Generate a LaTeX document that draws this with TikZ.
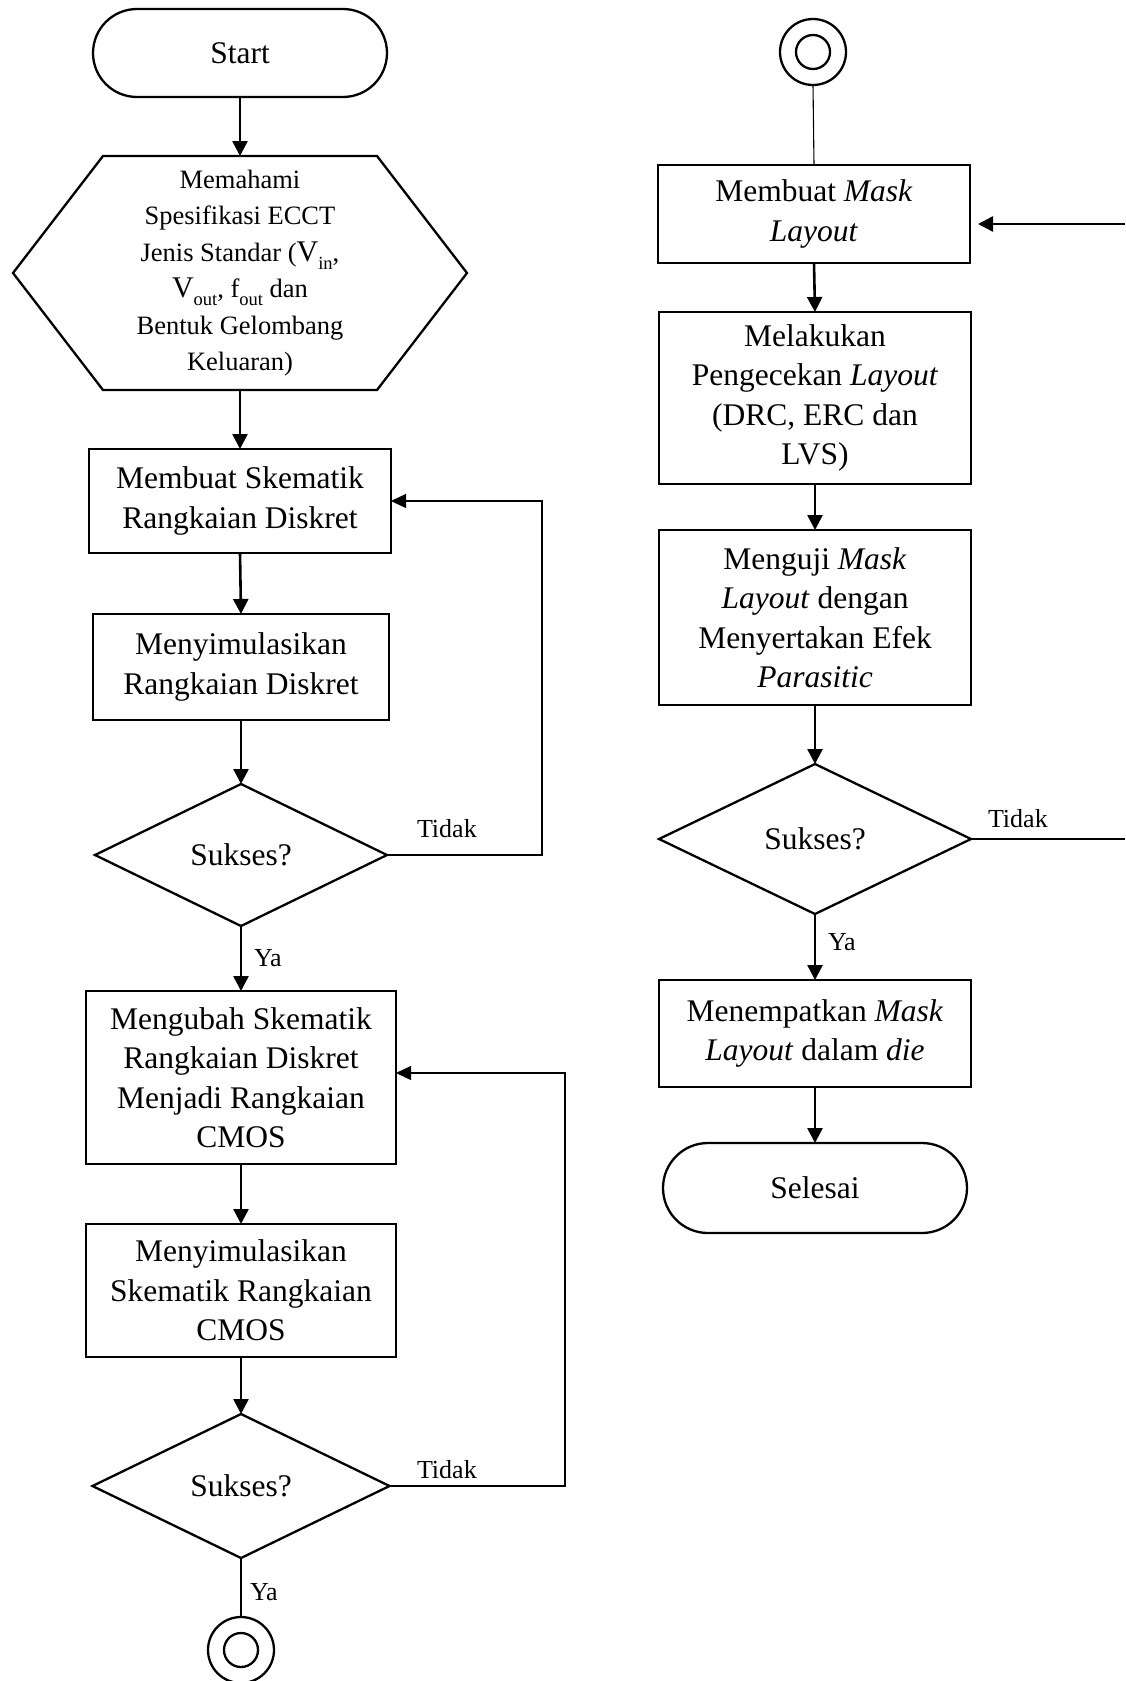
\documentclass[tikz,border=0pt]{standalone}
\usepackage{fontspec}
\setmainfont{Liberation Serif}
\usetikzlibrary{shapes.geometric,shapes.misc,arrows.meta}
\newcommand\mysub[1]{\raisebox{-0.3em}{\fontsize{18.5}{18.5}\selectfont #1}}
\newcommand\bigV{{\fontsize{30}{30}\selectfont V}}
\begin{document}
\begin{tikzpicture}[x=1pt,y=-1pt,
  every node/.style={inner sep=0pt, outer sep=0pt},
  main/.style={font=\fontsize{31.5}{39.5}\selectfont},
  proc/.style={main, draw, line width=2.3pt, align=center},
  term/.style={main, draw, line width=2.3pt, rounded rectangle},
  dec/.style={main, draw, line width=2.3pt, diamond},
  conn/.style={circle, draw, line width=2.3pt, minimum size=66pt,
    path picture={\draw[line width=2.3pt] (path picture bounding box.center) circle (17pt);}},
  lbl/.style={font=\fontsize{26}{26}\selectfont, anchor=base west},
  arr/.style={line width=2.6pt, -{Triangle[length=15pt,width=15pt]}},
  fb/.style={line width=1.3pt, -{Triangle[length=15pt,width=14pt]}},
  ln/.style={line width=1.1pt}]
\useasboundingbox (0,0) rectangle (1125,1681);

% left column
\node[term, minimum width=294pt, minimum height=88pt] (start) at (240,53) {Start};
\node[minimum width=454pt, minimum height=234pt, align=center,
      font=\fontsize{26.5}{36.5}\selectfont] (hex) at (240,273)
  {Memahami\\Spesifikasi ECCT\\Jenis Standar (\bigV\mysub{in},\\\bigV\mysub{out}, f\mysub{out} dan\\Bentuk Gelombang\\Keluaran)};
\draw[line width=2.3pt] (hex.west) -- ([xshift=90pt]hex.north west) -- ([xshift=-90pt]hex.north east)
  -- (hex.east) -- ([xshift=-90pt]hex.south east) -- ([xshift=90pt]hex.south west) -- cycle;
\node[proc, minimum width=302pt, minimum height=104pt] (b1) at (240,501) {Membuat Skematik\\Rangkaian Diskret};
\node[proc, minimum width=296pt, minimum height=106pt] (b2) at (241,667) {Menyimulasikan\\Rangkaian Diskret};
\node[dec, minimum width=292pt, minimum height=142pt] (d1) at (241,855) {Sukses?};
\node[proc, minimum width=310pt, minimum height=173pt] (b3) at (241,1077.5) {Mengubah Skematik\\Rangkaian Diskret\\Menjadi Rangkaian\\CMOS};
\node[proc, minimum width=310pt, minimum height=133pt] (b4) at (241,1290.5) {Menyimulasikan\\Skematik Rangkaian\\CMOS};
\node[dec, minimum width=297pt, minimum height=144pt] (d2) at (241,1486) {Sukses?};
\node[conn] (c1) at (241,1650) {};

% right column
\node[conn] (c2) at (813,52) {};
\node[proc, minimum width=312pt, minimum height=98pt] (b5) at (814,214) {Membuat \textit{Mask}\\\textit{Layout}};
\node[proc, minimum width=312pt, minimum height=172pt] (b6) at (815,398) {Melakukan\\Pengecekan \textit{Layout}\\(DRC, ERC dan\\LVS)};
\node[proc, minimum width=312pt, minimum height=175pt] (b7) at (815,617.5) {Menguji \textit{Mask}\\\textit{Layout} dengan\\Menyertakan Efek\\\textit{Parasitic}};
\node[dec, minimum width=312pt, minimum height=150pt] (d3) at (815,839) {Sukses?};
\node[proc, minimum width=312pt, minimum height=107pt] (b8) at (815,1033.5) {Menempatkan \textit{Mask}\\\textit{Layout} dalam \textit{die}};
\node[term, minimum width=304pt, minimum height=90pt] (end) at (815,1188) {Selesai};

% labels
\node[lbl] (t1) at (417,837) {Tidak};
\node[lbl] (t2) at (417,1478) {Tidak};
\node[lbl] (t3) at (988,827) {Tidak};
\node[lbl] (y1) at (254,966) {Ya};
\node[lbl] (y2) at (250,1600) {Ya};
\node[lbl] (y3) at (828,950) {Ya};

% connectors left
\draw[arr] (start.south) -- (hex.north);
\draw[arr] (hex.south) -- (b1.north);
\draw[arr] (b1.south) -- (b2.north);
\draw[arr] (b2.south) -- (d1.north);
\draw[arr] (d1.south) -- (b3.north);
\draw[arr] (b3.south) -- (b4.north);
\draw[arr] (b4.south) -- (d2.north);
\draw[ln] (d2.south) -- (c1.north);
\coordinate (lp1) at (542,501);
\draw[fb] (d1.east) -| (lp1) -- (b1.east);
\coordinate (lp2) at (565,1073);
\draw[fb] (d2.east) -| (lp2) -- (lp2 -| b3.east);

% connectors right
\draw[ln] (c2.south) -- (b5.north);
\draw[arr] (b5.south) -- (b6.north);
\draw[arr] (b6.south) -- (b7.north);
\draw[arr] (b7.south) -- (d3.north);
\draw[arr] (d3.south) -- (b8.north);
\draw[arr] (b8.south) -- (end.north);
\coordinate (rx1) at (1125,839);
\draw[ln] (d3.east) -- (rx1);
\coordinate (rx2) at (1125,224);
\draw[arr, shorten >=8pt] (rx2) -- (rx2 -| b5.east);
\end{tikzpicture}
\end{document}
